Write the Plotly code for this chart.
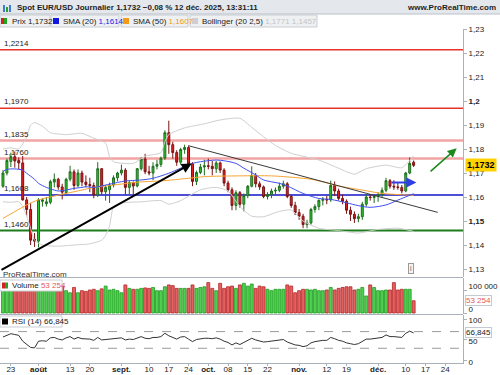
import pandas as pd
import plotly.graph_objects as go

# ---------------- data ----------------
axis_dates = [d.strftime('%Y-%m-%d') for d in pd.bdate_range('2025-07-21', '2025-12-31')]
n_candles = 105
dates = axis_dates[:n_candles]

opens = [1.1645,1.1700,1.1748,1.1768,1.1752,1.1742,1.1588,1.1548,1.1424,1.1416,
         1.1582,1.1572,1.1578,1.1662,1.1674,1.1642,1.1618,1.1674,1.1705,1.1648,
         1.1700,1.1662,1.1652,1.1648,1.1608,1.1718,1.1622,1.1630,1.1650,1.1680,
         1.1700,1.1712,1.1640,1.1660,1.1646,1.1718,1.1758,1.1705,1.1700,1.1728,
         1.1736,1.1762,1.1868,1.1818,1.1785,1.1745,1.1798,1.1806,1.1738,1.1665,
         1.1702,1.1725,1.1730,1.1728,1.1718,1.1742,1.1712,1.1658,1.1630,1.1565,
         1.1618,1.1570,1.1606,1.1645,1.1690,1.1655,1.1642,1.1602,1.1610,1.1625,
         1.1628,1.1645,1.1655,1.1602,1.1565,1.1535,1.1520,1.1485,1.1492,1.1548,
         1.1560,1.1586,1.1590,1.1588,1.1648,1.1625,1.1594,1.1582,1.1545,1.1528,
         1.1510,1.1518,1.1570,1.1600,1.1598,1.1603,1.1610,1.1628,1.1668,1.1645,
         1.1642,1.1640,1.1625,1.1700,1.1745]
highs = [1.1712,1.1760,1.1785,1.1790,1.1765,1.1771,1.1600,1.1575,1.1450,1.1595,
         1.1595,1.1600,1.1672,1.1698,1.1680,1.1655,1.1680,1.1730,1.1715,1.1715,
         1.1710,1.1690,1.1680,1.1660,1.1745,1.1720,1.1650,1.1660,1.1690,1.1705,
         1.1735,1.1720,1.1670,1.1665,1.1720,1.1765,1.1780,1.1730,1.1745,1.1755,
         1.1768,1.1878,1.1918,1.1830,1.1795,1.1805,1.1818,1.1812,1.1745,1.1710,
         1.1738,1.1755,1.1760,1.1750,1.1750,1.1748,1.1720,1.1668,1.1640,1.1628,
         1.1625,1.1615,1.1650,1.1728,1.1700,1.1665,1.1648,1.1620,1.1635,1.1640,
         1.1660,1.1668,1.1662,1.1610,1.1580,1.1550,1.1530,1.1505,1.1555,1.1570,
         1.1590,1.1600,1.1605,1.1668,1.1665,1.1635,1.1610,1.1590,1.1560,1.1540,
         1.1530,1.1580,1.1610,1.1612,1.1610,1.1620,1.1640,1.1680,1.1675,1.1670,
         1.1660,1.1650,1.1705,1.1765,1.1752]
lows = [1.1638,1.1690,1.1725,1.1722,1.1715,1.1585,1.1520,1.1400,1.1392,1.1390,
        1.1560,1.1560,1.1570,1.1640,1.1630,1.1590,1.1610,1.1665,1.1630,1.1640,
        1.1645,1.1640,1.1620,1.1595,1.1600,1.1610,1.1585,1.1575,1.1640,1.1665,
        1.1690,1.1610,1.1610,1.1610,1.1640,1.1710,1.1695,1.1690,1.1670,1.1715,
        1.1725,1.1755,1.1780,1.1760,1.1730,1.1735,1.1780,1.1725,1.1645,1.1650,
        1.1695,1.1690,1.1715,1.1690,1.1700,1.1700,1.1645,1.1620,1.1545,1.1545,
        1.1555,1.1540,1.1595,1.1640,1.1640,1.1630,1.1595,1.1590,1.1595,1.1610,
        1.1620,1.1635,1.1595,1.1555,1.1525,1.1505,1.1470,1.1470,1.1485,1.1535,
        1.1545,1.1565,1.1570,1.1580,1.1605,1.1585,1.1570,1.1530,1.1500,1.1492,
        1.1495,1.1505,1.1560,1.1585,1.1575,1.1580,1.1598,1.1620,1.1635,1.1630,
        1.1630,1.1615,1.1620,1.1695,1.1725]
closes = [1.1700,1.1752,1.1768,1.1750,1.1742,1.1588,1.1548,1.1420,1.1416,1.1588,
          1.1588,1.1580,1.1664,1.1674,1.1642,1.1620,1.1674,1.1705,1.1648,1.1700,
          1.1662,1.1652,1.1648,1.1608,1.1718,1.1622,1.1640,1.1650,1.1680,1.1700,
          1.1712,1.1640,1.1660,1.1646,1.1718,1.1758,1.1705,1.1700,1.1728,1.1736,
          1.1762,1.1868,1.1818,1.1785,1.1745,1.1798,1.1806,1.1738,1.1665,1.1702,
          1.1725,1.1730,1.1728,1.1718,1.1742,1.1712,1.1658,1.1630,1.1565,1.1618,
          1.1570,1.1606,1.1645,1.1690,1.1655,1.1642,1.1602,1.1610,1.1625,1.1628,
          1.1645,1.1655,1.1602,1.1565,1.1535,1.1520,1.1485,1.1492,1.1548,1.1560,
          1.1586,1.1590,1.1588,1.1648,1.1625,1.1594,1.1582,1.1545,1.1528,1.1510,
          1.1518,1.1570,1.1600,1.1598,1.1603,1.1610,1.1628,1.1668,1.1645,1.1642,
          1.1640,1.1625,1.1700,1.1740,1.1732]

volumes = [105000,110000,112000,108000,100000,130000,120000,132000,125000,135000,
           110000,105000,112000,108000,100000,117000,97000,88000,111000,88000,
           97000,94000,100000,103000,97000,105000,117000,100000,103000,97000,
           88000,122000,107000,103000,103000,107000,109000,107000,111000,97000,
           97000,114000,122000,119000,107000,107000,107000,107000,122000,107000,
           111000,114000,132000,107000,97000,129000,107000,114000,117000,107000,
           122000,129000,117000,126000,107000,117000,114000,103000,97000,103000,
           103000,103000,122000,117000,88000,97000,103000,103000,100000,103000,
           97000,97000,100000,111000,100000,107000,111000,114000,114000,100000,
           103000,111000,74000,122000,111000,97000,97000,100000,100000,132000,
           100000,103000,103000,103000,53254]

rsi = [57,62,65,63,61,47,40,32,31,47,
       48,47,55,56,52,50,55,58,52,56,
       53,52,52,49,56,50,51,52,54,55,
       55,50,52,51,55,58,54,53,56,56,
       58,66,60,56,52,57,58,52,46,51,
       53,54,54,53,55,52,47,44,38,43,
       39,44,48,54,50,48,45,46,47,48,
       50,51,45,41,38,37,34,36,43,46,
       48,49,49,56,53,49,47,43,41,39,
       41,47,52,52,53,54,56,62,58,58,
       57,56,66,71,66.845]

# indicator curves (trading-day index, value)
sma20_idx = [0,1,3,5,6,8,9,11,13,14,16,18,20,21,23,25,26,28,30,31,35,38,42,45,48,50,54,56,59,61,
             64,66,70,72,76,80,83,87,90,93,97,100,104]
sma20_val = [1.1706,1.1715,1.1717,1.1712,1.1699,1.1674,1.1657,1.1640,1.1629,1.1625,
             1.1629,1.1636,1.1640,1.1643,1.1640,1.1646,1.1650,1.1657,1.1664,1.1667,
             1.1671,1.1678,1.1699,1.1720,1.1740,1.1747,1.1754,1.1751,1.1740,1.1720,
             1.1692,1.1671,1.1657,1.1646,1.1615,1.1594,1.1590,1.1576,1.1564,1.1557,
             1.1567,1.1587,1.1614]
sma50_idx = [0,3,6,9,13,16,20,23,26,30,33,36,40,47,51,60,68,74,78,81,85,91,96,104]
sma50_val = [1.1511,1.1539,1.1567,1.1588,1.1604,1.1615,1.1629,1.1640,1.1646,1.1654,
             1.1660,1.1664,1.1667,1.1678,1.1685,1.1688,1.1688,1.1681,1.1674,1.1663,
             1.1646,1.1629,1.1615,1.1607]
boll_up_idx = [0,2,4,6,7,8,10,12,16,20,23,26,27,28,33,36,40,41,42,46,51,55,60,63,66,69,73,80,85,89,92,97,101,104]
boll_up_val = [1.1800,1.1805,1.1800,1.1850,1.1900,1.1910,1.1895,1.1868,1.1860,1.1865,
               1.1845,1.1824,1.1768,1.1747,1.1740,1.1770,1.1785,1.1830,1.1860,1.1888,
               1.1905,1.1921,1.1928,1.1890,1.1851,1.1815,1.1782,1.1754,1.1720,1.1695,
               1.1718,1.1733,1.1722,1.1771]
boll_lo_idx = [0,2,4,5,6,7,8,10,14,18,22,25,26,27,28,30,35,40,42,45,50,54,57,60,63,66,70,73,76,80,85,90,95,100,104]
boll_lo_val = [1.1580,1.1578,1.1580,1.1560,1.1520,1.1470,1.1420,1.1400,1.1395,1.1400,
               1.1405,1.1420,1.1440,1.1480,1.1560,1.1575,1.1580,1.1585,1.1570,1.1585,
               1.1630,1.1640,1.1625,1.1560,1.1520,1.1518,1.1540,1.1546,1.1500,1.1470,
               1.1460,1.1450,1.1465,1.1470,1.1457]

levels = [1.2214, 1.1970, 1.1835, 1.1760, 1.1608, 1.1460]
level_labels = ['1,2214', '1,1970', '1,1835', '1,1760', '1,1608', '1,1460']
level_colors = ['#e8332b', '#e8332b', '#f2a3a3', '#f2a3a3', '#1414c8', '#1d7d1d']
level_widths = [1.5, 1.5, 2.5, 2.5, 1.5, 2]

# drawn tools (trading-day index, price)
trend_up = [(-0.75, 1.1293), (47.8, 1.1740)]
trend_down = [(46.9, 1.1814), (110.1, 1.1536)]
arrow_blue = [(98.0, 1.1660), (104.7, 1.1660)]
arrow_green = [(107.9, 1.1701), (114.9, 1.1803)]

tick_dates = ['2025-07-23','2025-08-01','2025-08-13','2025-08-20','2025-09-01','2025-09-10',
              '2025-09-17','2025-09-24','2025-10-01','2025-10-08','2025-10-15','2025-10-22',
              '2025-11-03','2025-11-12','2025-11-19','2025-12-01','2025-12-10','2025-12-17','2025-12-24']
tick_labels = ['23','<b>août</b>','13','20','<b>sept.</b>','10','17','24','<b>oct.</b>','08','15','22',
               '<b>nov.</b>','12','19','<b>déc.</b>','10','17','24']

price_ticks = [1.13,1.14,1.15,1.16,1.17,1.18,1.19,1.20,1.21,1.22,1.23]
price_tick_text = ['1,13','1,14','<b>1,15</b>','1,16','1,17','1,18','1,19','<b>1,2</b>','1,21','1,22','1,23']

volume_ticks = [100000, 0]
volume_tick_text = ['100 000', '0']
rsi_ticks = [0, 50, 100]

last_price = 1.1732

# ---------------- figure ----------------
FONT = 'Liberation Sans'
W, H = 500, 375
ML, MR, MT, MB = 0, 37, 29, 12
PW, PH = W - ML - MR, H - MT - MB

def pxx(x):
    return (x - ML) / PW

def pxy(y):
    return (H - MB - y) / PH

xi = list(range(n_candles))
up = [c >= o for o, c in zip(opens, closes)]

fig = go.Figure()

fig.add_trace(go.Scatter(x=boll_up_idx, y=boll_up_val, mode='lines', line=dict(color='#cfcfcf', width=1, shape='spline', smoothing=0.6), hoverinfo='skip'))
fig.add_trace(go.Scatter(x=boll_lo_idx, y=boll_lo_val, mode='lines', line=dict(color='#cfcfcf', width=1, shape='spline', smoothing=0.6), hoverinfo='skip'))
fig.add_trace(go.Scatter(x=sma50_idx, y=sma50_val, mode='lines', line=dict(color='#f7a433', width=1, shape='spline', smoothing=0.8), hoverinfo='skip'))
fig.add_trace(go.Scatter(x=sma20_idx, y=sma20_val, mode='lines', line=dict(color='#3f4ff2', width=1, shape='spline', smoothing=0.8), hoverinfo='skip'))

fig.add_trace(go.Candlestick(
    x=xi, open=opens, high=highs, low=lows, close=closes,
    increasing=dict(line=dict(color='#1f6e1f', width=1), fillcolor='#2ec42e'),
    decreasing=dict(line=dict(color='#7a1212', width=1), fillcolor='#e52222'),
    whiskerwidth=0, hoverinfo='skip'))

fig.add_trace(go.Bar(
    x=xi, y=volumes, yaxis='y2',
    marker=dict(color=['#4fcf4f' if u else '#e56060' for u in up],
                line=dict(color=['#1f9a1f' if u else '#b32424' for u in up], width=0.8)),
    hoverinfo='skip'))

fig.add_trace(go.Scatter(x=xi, y=rsi, yaxis='y3', mode='lines', line=dict(color='#333333', width=1), hoverinfo='skip'))

shapes = []
annotations = []

for lv, lab, col, wd in zip(levels, level_labels, level_colors, level_widths):
    shapes.append(dict(type='line', xref='x domain', yref='y', x0=0, x1=1, y0=lv, y1=lv,
                       line=dict(color=col, width=wd), layer='below'))
    annotations.append(dict(xref='paper', yref='y', x=pxx(2), y=lv, xanchor='left', yanchor='bottom',
                            text=lab, showarrow=False, font=dict(family=FONT, size=8, color='#222')))

for lv in (70, 30):
    shapes.append(dict(type='line', xref='x domain', yref='y3', x0=0, x1=1, y0=lv, y1=lv,
                       line=dict(color='#9a9a9a', width=1, dash='dash'), layer='below'))

for yy in (277.5, 314.5):
    shapes.append(dict(type='line', xref='paper', yref='paper', x0=0, x1=1, y0=pxy(yy), y1=pxy(yy),
                       line=dict(color='#a9b2ba', width=1)))

shapes.append(dict(type='line', xref='x', yref='y', x0=trend_down[0][0], y0=trend_down[0][1],
                   x1=trend_down[1][0], y1=trend_down[1][1], line=dict(color='#3a3a3a', width=1)))
for seg, col, wd, hs in ((trend_up, '#000000', 2, 1.0), (arrow_blue, '#2f3fe6', 2, 1.0), (arrow_green, '#1a8a1a', 1.5, 1.2)):
    annotations.append(dict(xref='x', yref='y', axref='x', ayref='y',
                            x=seg[1][0], y=seg[1][1], ax=seg[0][0], ay=seg[0][1],
                            text='', showarrow=True, arrowhead=2, arrowsize=hs, arrowwidth=wd,
                            arrowcolor=col, standoff=0, startstandoff=0))

# header bar
shapes.append(dict(type='rect', xref='paper', yref='paper', x0=pxx(-2), x1=pxx(502), y0=pxy(14), y1=pxy(-2),
                   fillcolor='#e4e8ec', line=dict(width=0)))
shapes.append(dict(type='line', xref='paper', yref='paper', x0=pxx(0), x1=pxx(500), y0=pxy(14), y1=pxy(14),
                   line=dict(color='#b9c0c7', width=1)))
for k, (x0, x1, c) in enumerate(((3, 5, '#3b7dd8'), (6, 8, '#2aa02a'), (9, 11, '#3b7dd8'))):
    shapes.append(dict(type='rect', xref='paper', yref='paper', x0=pxx(x0), x1=pxx(x1),
                       y0=pxy(12), y1=pxy(5 + 2 * (k % 2)), fillcolor=c, line=dict(width=0)))
annotations.append(dict(xref='paper', yref='paper', x=pxx(15), y=pxy(7), xanchor='left', yanchor='middle',
                        text='<b>Spot EUR/USD Journalier 1,1732 \u22120,08 % 12 déc. 2025, 13:31:11</b>',
                        showarrow=False, font=dict(family=FONT, size=8, color='#1e1e1e')))
annotations.append(dict(xref='paper', yref='paper', x=pxx(498), y=pxy(7), xanchor='right', yanchor='middle',
                        text='<b>www.ProRealTime.com</b>', showarrow=False, font=dict(family=FONT, size=8, color='#1e1e1e')))

legend_boxes = [(0, 50), (51, 119), (121, 188), (190, 317)]
for x0, x1 in legend_boxes:
    shapes.append(dict(type='rect', xref='paper', yref='paper', x0=pxx(x0), x1=pxx(x1), y0=pxy(27), y1=pxy(15),
                       fillcolor='#eef0f2', line=dict(color='#c9cdd2', width=1)))
sq = [((1, 4), '#d42020'), ((4, 7), '#22a322'), ((53, 59), '#1515e0'), ((123, 129), '#f79a1a'), ((192, 198), '#cfcfcf')]
for (x0, x1), c in sq:
    shapes.append(dict(type='rect', xref='paper', yref='paper', x0=pxx(x0), x1=pxx(x1), y0=pxy(24), y1=pxy(18),
                       fillcolor=c, line=dict(width=0)))
leg_texts = [
    (10, 'Prix 1,1732'),
    (61, 'SMA (20) <span style="color:#1a1ae6">1,1614</span>'),
    (131, 'SMA (50) <span style="color:#f39a1c">1,1607</span>'),
    (200, 'Bollinger (20 2,5) <span style="color:#c4c4c4">1,1771 1,1457</span>'),
]
for x, t in leg_texts:
    annotations.append(dict(xref='paper', yref='paper', x=pxx(x), y=pxy(21), xanchor='left', yanchor='middle',
                            text=t, showarrow=False, font=dict(family=FONT, size=8, color='#222')))

for (y0, y1), t, cols in (((280, 291), 'Volume <span style="color:#e05a5a">53 254</span>', ('#d42020', '#22a322')),
                          ((316, 327), 'RSI (14) 66,845', ('#000000', '#000000'))):
    shapes.append(dict(type='rect', xref='paper', yref='paper', x0=pxx(0), x1=pxx(62), y0=pxy(y1), y1=pxy(y0),
                       fillcolor='#ffffff', line=dict(color='#c9cdd2', width=1)))
    shapes.append(dict(type='rect', xref='paper', yref='paper', x0=pxx(2), x1=pxx(5), y0=pxy(y1 - 2.5), y1=pxy(y0 + 2.5),
                       fillcolor=cols[0], line=dict(width=0)))
    shapes.append(dict(type='rect', xref='paper', yref='paper', x0=pxx(5), x1=pxx(8), y0=pxy(y1 - 2.5), y1=pxy(y0 + 2.5),
                       fillcolor=cols[1], line=dict(width=0)))
    annotations.append(dict(xref='paper', yref='paper', x=pxx(10), y=pxy((y0 + y1) / 2), xanchor='left', yanchor='middle',
                            text=t, showarrow=False, font=dict(family=FONT, size=8, color='#222')))

annotations.append(dict(xref='paper', yref='y', x=1, y=last_price, xanchor='left', yanchor='middle', xshift=2,
                        text='<b>1,1732</b>', showarrow=False, bgcolor='#ffd200', borderpad=1,
                        font=dict(family=FONT, size=9, color='#000')))
annotations.append(dict(xref='paper', yref='y2', x=1, y=volumes[-1], xanchor='left', yanchor='middle', xshift=2,
                        text='53 254', showarrow=False, bgcolor='#ffffff', bordercolor='#c3cad1', borderwidth=1, borderpad=0,
                        font=dict(family=FONT, size=8, color='#e05a5a')))
annotations.append(dict(xref='paper', yref='y3', x=1, y=rsi[-1], xanchor='left', yanchor='middle', xshift=2,
                        text='66,845', showarrow=False, bgcolor='#ffffff', bordercolor='#c3cad1', borderwidth=1, borderpad=0,
                        font=dict(family=FONT, size=8, color='#222')))

annotations.append(dict(xref='paper', yref='paper', x=pxx(1), y=pxy(274), xanchor='left', yanchor='middle',
                        text='ProRealTime.com', showarrow=False, font=dict(family=FONT, size=8, color='#333')))
annotations.append(dict(xref='paper', yref='paper', x=pxx(411), y=pxy(268), xanchor='center', yanchor='middle',
                        text='i', showarrow=False, bgcolor='#f4f4f4', bordercolor='#9a9a9a', borderwidth=1, borderpad=1,
                        font=dict(family=FONT, size=7, color='#555')))

tickvals = [axis_dates.index(d) for d in tick_dates]

yaxis_common = dict(side='right', anchor='x', showgrid=False, zeroline=False, showline=True,
                    linecolor='#a9b2ba', linewidth=1, ticks='outside', ticklen=3, tickcolor='#a9b2ba',
                    tickfont=dict(family=FONT, size=8, color='#222'), automargin=False, fixedrange=True)

fig.update_layout(
    width=W, height=H, margin=dict(l=ML, r=MR, t=MT, b=MB),
    paper_bgcolor='#ffffff', plot_bgcolor='#ffffff', showlegend=False, bargap=0.25,
    font=dict(family=FONT, size=8, color='#222'),
    xaxis=dict(range=[-0.75, 116.5], anchor='y3', tickvals=tickvals, ticktext=tick_labels,
               showgrid=False, zeroline=False, showline=True, linecolor='#a9b2ba', ticks='outside',
               ticklen=2, tickcolor='#a9b2ba', ticklabelstandoff=-4,
               tickfont=dict(family=FONT, size=8, color='#222'),
               rangeslider=dict(visible=False), automargin=False, fixedrange=True),
    yaxis=dict(domain=[pxy(277), 1.0], range=[1.12667, 1.2300], tickvals=price_ticks,
               ticktext=price_tick_text, **yaxis_common),
    yaxis2=dict(domain=[pxy(314), pxy(278)], range=[-4348, 152174], tickvals=volume_ticks,
                ticktext=volume_tick_text, ticklabelshift=-4, **yaxis_common),
    yaxis3=dict(domain=[0, pxy(315)], range=[-5.3, 109.8], tickvals=rsi_ticks,
                ticktext=[str(v) for v in rsi_ticks], ticklabelshift=1, **yaxis_common),
    shapes=shapes, annotations=annotations,
)

fig.write_html('out.html', config={'displayModeBar': False},
               post_script="document.body.style.margin='0';document.body.style.padding='0';")
